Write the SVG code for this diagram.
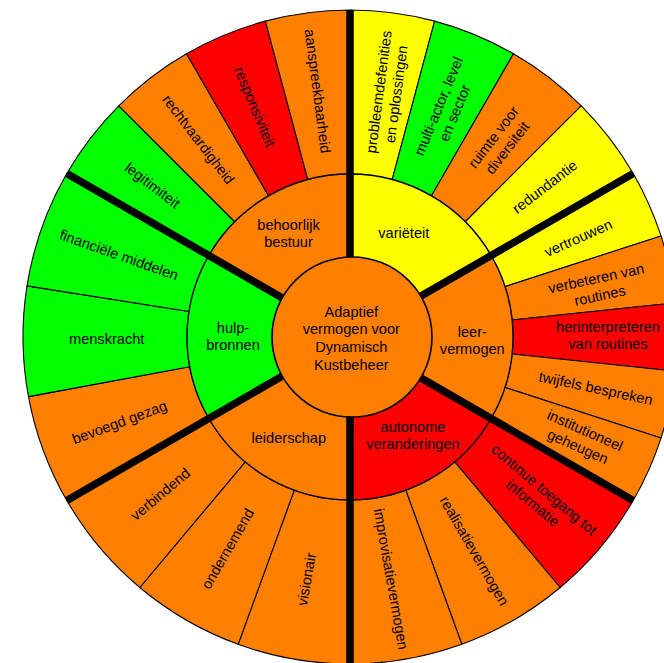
<svg xmlns="http://www.w3.org/2000/svg" width="664" height="663" viewBox="0 0 664 663">
<style>
.o{fill:#FF8000}.r{fill:#FF0000}.g{fill:#00FF00}.y{fill:#FFFF00}
.seg{stroke:#000;stroke-width:1.1;stroke-linejoin:round}
.mid{stroke:#000;stroke-width:1.4}
.thick{stroke:#000;stroke-width:7.5;fill:none}
text{font-family:"Liberation Sans",Arial,sans-serif;font-size:14.6px;fill:#000;text-anchor:middle}
</style>
<rect width="664" height="663" fill="#fff"/>
<g id="outer-ring">
<g id="legitimiteit"><path class="seg g" d="M66.81 173.5A327 327 0 0 1 118.78 105.78L234.74 221.74A163 163 0 0 0 208.84 255.5Z"/><text transform="translate(152.45 185.42) rotate(37.5)" y="5">legitimiteit</text></g>
<g id="rechtvaardigheid"><path class="seg o" d="M118.78 105.78A327 327 0 0 1 186.5 53.81L268.5 195.84A163 163 0 0 0 234.74 221.74Z"/><text transform="translate(198.42 139.45) rotate(52.5)" y="5">rechtvaardigheid</text></g>
<g id="responsiviteit"><path class="seg r" d="M186.5 53.81A327 327 0 0 1 265.37 21.14L307.81 179.55A163 163 0 0 0 268.5 195.84Z"/><text transform="translate(254.71 106.95) rotate(67.5)" y="5">responsiviteit</text></g>
<g id="aanspreekbaarheid"><path class="seg o" d="M265.37 21.14A327 327 0 0 1 350 10L350 174A163 163 0 0 0 307.81 179.55Z"/><text transform="translate(317.63 91.12) rotate(82.5)" y="5">aanspreekbaarheid</text></g>
<g id="probleemdefenities"><path class="seg y" d="M350 10A327 327 0 0 1 434.63 21.14L392.19 179.55A163 163 0 0 0 350 174Z"/><text transform="translate(387.5 93) rotate(-82.5)"><tspan x="0" y="-3.8">probleemdefenities</tspan><tspan x="0" y="13.8">en oplossingen</tspan></text></g>
<g id="multi-actor"><path class="seg g" d="M434.63 21.14A327 327 0 0 1 513.5 53.81L431.5 195.84A163 163 0 0 0 392.19 179.55Z"/><text transform="translate(446.7 109.6) rotate(-67.5)"><tspan x="0" y="-3.8">multi-actor, level</tspan><tspan x="0" y="13.8">en sector</tspan></text></g>
<g id="ruimte-voor-diversiteit"><path class="seg o" d="M513.5 53.81A327 327 0 0 1 581.22 105.78L465.26 221.74A163 163 0 0 0 431.5 195.84Z"/><text transform="translate(500.4 142.5) rotate(-52.5)"><tspan x="0" y="-3.8">ruimte voor</tspan><tspan x="0" y="13.8">diversiteit</tspan></text></g>
<g id="redundantie"><path class="seg y" d="M581.22 105.78A327 327 0 0 1 633.19 173.5L491.16 255.5A163 163 0 0 0 465.26 221.74Z"/><text transform="translate(544.8 186.7) rotate(-37.5)" y="5">redundantie</text></g>
<g id="vertrouwen"><path class="seg y" d="M633.19 173.5A327 327 0 0 1 661 235.95L505.02 286.63A163 163 0 0 0 491.16 255.5Z"/><text transform="translate(578.3 238) rotate(-24)" y="5">vertrouwen</text></g>
<g id="verbeteren-van-routines"><path class="seg o" d="M661 235.95A327 327 0 0 1 675.21 302.82L512.11 319.96A163 163 0 0 0 505.02 286.63Z"/><text transform="translate(598 287) rotate(-12)"><tspan x="0" y="-3.8">verbeteren van</tspan><tspan x="0" y="13.8">routines</tspan></text></g>
<g id="herinterpreteren-van-routines"><path class="seg r" d="M675.21 302.82A327 327 0 0 1 675.21 371.18L512.11 354.04A163 163 0 0 0 512.11 319.96Z"/><text><tspan x="608" y="331.7">herinterpreteren</tspan><tspan x="608" y="349">van routines</tspan></text></g>
<g id="twijfels-bespreken"><path class="seg o" d="M675.21 371.18A327 327 0 0 1 661 438.05L505.02 387.37A163 163 0 0 0 512.11 354.04Z"/><text transform="translate(595.8 388.3) rotate(12)" y="5">twijfels bespreken</text></g>
<g id="institutioneel-geheugen"><path class="seg o" d="M661 438.05A327 327 0 0 1 633.19 500.5L491.16 418.5A163 163 0 0 0 505.02 387.37Z"/><text transform="translate(581.4 438.5) rotate(24)"><tspan x="0" y="-3.8">institutioneel</tspan><tspan x="0" y="13.8">geheugen</tspan></text></g>
<g id="continue-toegang"><path class="seg r" d="M633.19 500.5A327 327 0 0 1 560.19 587.5L454.77 461.86A163 163 0 0 0 491.16 418.5Z"/><text transform="translate(538.5 496.5) rotate(40)"><tspan x="0" y="-3.8">continue toegang tot</tspan><tspan x="0" y="13.8">informatie</tspan></text></g>
<g id="realisatievermogen"><path class="seg o" d="M560.19 587.5A327 327 0 0 1 461.84 644.28L405.75 490.17A163 163 0 0 0 454.77 461.86Z"/><text transform="translate(474.3 550.9) rotate(60)" y="5">realisatievermogen</text></g>
<g id="improvisatievermogen"><path class="seg o" d="M461.84 644.28A327 327 0 0 1 350 664L350 500A163 163 0 0 0 405.75 490.17Z"/><text transform="translate(391 579) rotate(80)" y="5">improvisatievermogen</text></g>
<g id="visionair"><path class="seg o" d="M350 664A327 327 0 0 1 238.16 644.28L294.25 490.17A163 163 0 0 0 350 500Z"/><text transform="translate(306.5 579.3) rotate(-80)" y="5">visionair</text></g>
<g id="ondernemend"><path class="seg o" d="M238.16 644.28A327 327 0 0 1 139.81 587.5L245.23 461.86A163 163 0 0 0 294.25 490.17Z"/><text transform="translate(227.6 548.8) rotate(-60)" y="5">ondernemend</text></g>
<g id="verbindend"><path class="seg o" d="M139.81 587.5A327 327 0 0 1 66.81 500.5L208.84 418.5A163 163 0 0 0 245.23 461.86Z"/><text transform="translate(160.3 494.2) rotate(-40)" y="5">verbindend</text></g>
<g id="bevoegd-gezag"><path class="seg o" d="M66.81 500.5A327 327 0 0 1 28.48 396.59L189.73 366.7A163 163 0 0 0 208.84 418.5Z"/><text transform="translate(119.5 422.3) rotate(-20.25)" y="5">bevoegd gezag</text></g>
<g id="menskracht"><path class="seg g" d="M28.48 396.59A327 327 0 0 1 27.03 285.85L189.01 311.5A163 163 0 0 0 189.73 366.7Z"/><text x="106.7" y="344">menskracht</text></g>
<g id="financiele-middelen"><path class="seg g" d="M27.03 285.85A327 327 0 0 1 66.81 173.5L208.84 255.5A163 163 0 0 0 189.01 311.5Z"/><text transform="translate(119 255) rotate(19.5)" y="5">financiële middelen</text></g>
</g>
<g id="middle-ring">
<g id="behoorlijk-bestuur"><path class="mid o" d="M350 337L208.84 255.5A163 163 0 0 1 350 174Z"/><text><tspan x="288.5" y="230">behoorlijk</tspan><tspan x="288.5" y="247">bestuur</tspan></text></g>
<g id="varieteit"><path class="mid y" d="M350 337L350 174A163 163 0 0 1 491.16 255.5Z"/><text x="403.8" y="238.3">variëteit</text></g>
<g id="leervermogen"><path class="mid o" d="M350 337L491.16 255.5A163 163 0 0 1 491.16 418.5Z"/><text><tspan x="472.3" y="336.7">leer-</tspan><tspan x="472.3" y="354">vermogen</tspan></text></g>
<g id="autonome-veranderingen"><path class="mid r" d="M350 337L491.16 418.5A163 163 0 0 1 350 500Z"/><text><tspan x="413" y="432.3">autonome</tspan><tspan x="413" y="449">veranderingen</tspan></text></g>
<g id="leiderschap"><path class="mid o" d="M350 337L350 500A163 163 0 0 1 208.84 418.5Z"/><text x="288.8" y="443.3">leiderschap</text></g>
<g id="hulpbronnen"><path class="mid g" d="M350 337L208.84 418.5A163 163 0 0 1 208.84 255.5Z"/><text><tspan x="233" y="332.7">hulp-</tspan><tspan x="233" y="350">bronnen</tspan></text></g>
</g>
<g id="connectors">
<line class="thick" x1="350" y1="337" x2="350" y2="10"/>
<line class="thick" x1="350" y1="337" x2="633.19" y2="173.5"/>
<line class="thick" x1="350" y1="337" x2="633.19" y2="500.5"/>
<line class="thick" x1="350" y1="337" x2="350" y2="664"/>
<line class="thick" x1="350" y1="337" x2="66.81" y2="500.5"/>
<line class="thick" x1="350" y1="337" x2="66.81" y2="173.5"/>
</g>
<g id="center">
<circle cx="352" cy="337" r="80" class="o" stroke="#000" stroke-width="1.6"/>
<text><tspan x="351.3" y="316.7">Adaptief</tspan><tspan x="351.3" y="334.4">vermogen voor</tspan><tspan x="351.3" y="352.2">Dynamisch</tspan><tspan x="351.3" y="370">Kustbeheer</tspan></text>
</g>
</svg>
